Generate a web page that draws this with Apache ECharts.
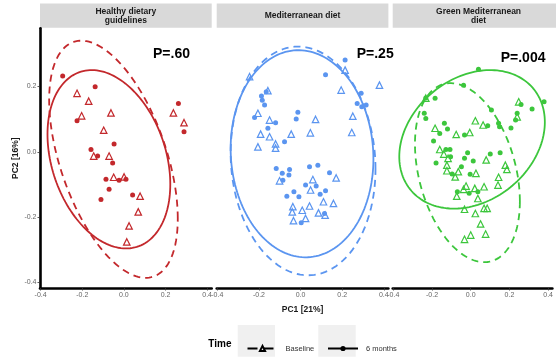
<!DOCTYPE html>
<html>
<head>
<meta charset="utf-8">
<script src="https://cdn.jsdelivr.net/npm/echarts@6.0.0/dist/echarts.min.js"></script>
<style>
  html, body { margin: 0; padding: 0; background: #fff; }
  #chart { width: 556px; height: 358px; }
</style>
</head>
<body>
<div id="chart"></div>
<script>
const panelTitles = ['Healthy dietary\nguidelines', 'Mediterranean diet', 'Green Mediterranean\ndiet'];
const panelColors = ['#c3282c', '#5b95f0', '#3cc63c'];
const pLabels = ['P=.60', 'P=.25', 'P=.004'];
const xTicks = [-0.4, -0.2, 0, 0.2, 0.4];
const yTicks = [-0.4, -0.2, 0, 0.2];
const timeLevels = ['Baseline', '6 months'];

// points: [PC1, PC2]
const hdgBaseline = [[-0.225,0.179],[-0.169,0.155],[-0.203,0.110],[-0.062,0.119],[-0.097,0.066],[0.238,0.119],[0.289,0.089],[-0.145,-0.013],[-0.071,-0.013],[-0.049,-0.078],[0.001,-0.077],[0.078,-0.136],[0.069,-0.184],[0.025,-0.227],[0.014,-0.276]];
const hdgSixMonths = [[-0.294,0.232],[-0.138,0.199],[-0.225,0.095],[0.262,0.148],[0.289,0.061],[-0.047,0.024],[-0.158,0.007],[-0.126,-0.013],[-0.054,-0.034],[-0.086,-0.084],[-0.023,-0.087],[0.010,-0.084],[-0.071,-0.115],[-0.110,-0.146],[0.042,-0.132]];

const medBaseline = [[0.214,0.250],[0.379,0.204],[0.195,0.189],[-0.157,0.187],[-0.245,0.230],[-0.205,0.118],[-0.149,0.097],[0.072,0.099],[0.251,0.109],[-0.192,0.054],[-0.149,0.046],[-0.045,0.054],[0.047,0.058],[0.246,0.059],[-0.205,0.015],[-0.120,0.024],[-0.120,0.011],[-0.101,-0.089],[0.059,-0.085],[0.171,-0.080],[0.048,-0.117],[0.110,-0.153],[0.158,-0.158],[-0.037,-0.168],[-0.040,-0.184],[0.008,-0.179],[0.043,-0.166],[0.086,-0.187],[0.118,-0.194],[-0.034,-0.211],[0.024,-0.204]];
const medSixMonths = [[0.214,0.281],[0.120,0.236],[-0.165,0.184],[-0.188,0.171],[-0.184,0.158],[-0.173,0.143],[0.291,0.179],[0.272,0.148],[0.294,0.138],[0.315,0.143],[-0.013,0.121],[-0.021,0.100],[-0.221,0.105],[-0.120,0.089],[-0.157,0.072],[-0.077,0.031],[-0.117,-0.051],[-0.088,-0.066],[-0.053,-0.054],[-0.056,-0.071],[-0.085,-0.087],[0.043,-0.046],[0.083,-0.041],[0.139,-0.064],[0.024,-0.102],[0.075,-0.105],[0.120,-0.119],[0.094,-0.130],[-0.066,-0.136],[-0.032,-0.122],[-0.008,-0.138],[0.115,-0.189],[0.003,-0.217]];

const gmedBaseline = [[-0.232,0.164],[0.248,0.153],[0.240,0.107],[0.024,0.095],[0.064,0.082],[-0.184,0.072],[-0.075,0.053],[-0.005,0.059],[-0.160,0.007],[-0.139,-0.007],[-0.117,-0.020],[0.080,-0.025],[-0.123,-0.041],[-0.123,-0.058],[-0.064,-0.061],[-0.080,-0.077],[0.027,-0.066],[0.179,-0.041],[0.187,-0.054],[0.144,-0.078],[0.141,-0.102],[-0.024,-0.105],[-0.037,-0.115],[0.021,-0.112],[0.069,-0.107],[-0.072,-0.136],[0.037,-0.143],[-0.032,-0.176],[0.069,-0.173],[0.085,-0.173],[0.024,-0.189],[0.051,-0.221],[0.000,-0.255],[-0.032,-0.268],[0.077,-0.252]];
const gmedSixMonths = [[0.040,0.253],[-0.037,0.204],[-0.232,0.165],[-0.184,0.164],[-0.240,0.118],[-0.232,0.102],[0.107,0.128],[0.260,0.145],[0.317,0.131],[0.240,0.118],[0.232,0.097],[0.208,0.073],[0.144,0.087],[0.149,0.077],[0.088,0.080],[-0.136,0.087],[-0.120,0.070],[-0.160,0.056],[-0.032,0.051],[-0.192,0.033],[-0.128,0.007],[-0.107,0.007],[-0.104,-0.015],[-0.179,-0.034],[-0.032,-0.020],[-0.016,-0.003],[0.013,-0.028],[0.101,-0.007],[0.152,-0.003],[-0.048,-0.046],[-0.096,-0.068],[-0.003,-0.069],[-0.069,-0.122],[-0.008,-0.127],[0.037,-0.122],[0.379,0.153]];

// normal data ellipses: [centre PC1, centre PC2, sd PC1, sd PC2, correlation]
const baselineEllipses = [[-0.050,-0.023,0.309,0.363,-0.50],[0.012,-0.028,0.348,0.350,-0.07],[-0.017,-0.064,0.271,0.274,-0.32]];
const sixMonthEllipses = [[-0.072,-0.023,0.295,0.273,-0.28],[0.007,-0.006,0.343,0.317,-0.05],[0.007,0.038,0.376,0.212,0.25]];

const baselinePoints = [hdgBaseline, medBaseline, gmedBaseline];
const sixMonthPoints = [hdgSixMonths, medSixMonths, gmedSixMonths];

const FONT = 'Liberation Sans, Arial, sans-serif';
const panelLeft = [40, 216.7, 392.7];
const panelWidth = 171.7;
const panelTop = 28.3;
const panelHeight = 259.7;
const pPos = [[153, 54], [356.7, 54], [500.7, 58.5]];

function ellipseRenderer(color, dashed) {
  return function (params, api) {
    const cx = api.value(0), cy = api.value(1), sx = api.value(2), sy = api.value(3), r = api.value(4);
    const k = Math.sqrt(1 - r * r);
    const pts = [];
    for (let i = 0; i <= 160; i++) {
      const t = i / 160 * Math.PI * 2;
      pts.push(api.coord([cx + sx * Math.cos(t), cy + sy * (r * Math.cos(t) + k * Math.sin(t))]));
    }
    return {
      type: 'polyline',
      shape: { points: pts },
      style: { stroke: color, fill: null, lineWidth: 1.8, lineDash: dashed ? [7, 5] : null }
    };
  };
}

const grids = [], xAxes = [], yAxes = [], series = [], graphics = [];

panelTitles.forEach((title, i) => {
  const col = panelColors[i];
  grids.push({ left: panelLeft[i], width: panelWidth, top: panelTop, height: panelHeight });
  xAxes.push({
    gridIndex: i, type: 'value', min: -0.403, max: 0.422,
    axisLine: { onZero: false, lineStyle: { color: '#000', width: 2.6 } },
    axisTick: { customValues: xTicks, length: 2.5, lineStyle: { color: '#333', width: 0.8 } },
    axisLabel: { customValues: xTicks, formatter: v => v.toFixed(1), fontSize: 7, color: '#666', fontFamily: FONT, margin: 3.5 },
    splitLine: { show: false },
    name: i === 1 ? 'PC1 [21%]' : '', nameLocation: 'middle', nameGap: 17,
    nameTextStyle: { fontSize: 8.5, fontWeight: 'bold', color: '#1a1a1a', fontFamily: FONT }
  });
  yAxes.push({
    gridIndex: i, type: 'value', min: -0.417, max: 0.378, show: i === 0,
    axisLine: { onZero: false, lineStyle: { color: '#000', width: 2.6 } },
    axisTick: { customValues: yTicks, length: 2.5, lineStyle: { color: '#333', width: 0.8 } },
    axisLabel: { customValues: yTicks, formatter: v => v.toFixed(1), fontSize: 7, color: '#666', fontFamily: FONT, margin: 3.5 },
    splitLine: { show: false },
    name: i === 0 ? 'PC2 [16%]' : '', nameLocation: 'middle', nameGap: 19, nameRotate: 90,
    nameTextStyle: { fontSize: 8.5, fontWeight: 'bold', color: '#1a1a1a', fontFamily: FONT }
  });
  series.push({
    type: 'custom', xAxisIndex: i, yAxisIndex: i, silent: true, z: 2,
    renderItem: ellipseRenderer(col, true), data: [baselineEllipses[i]]
  });
  series.push({
    type: 'custom', xAxisIndex: i, yAxisIndex: i, silent: true, z: 2,
    renderItem: ellipseRenderer(col, false), data: [sixMonthEllipses[i]]
  });
  series.push({
    type: 'scatter', xAxisIndex: i, yAxisIndex: i, z: 3,
    data: baselinePoints[i], symbol: 'triangle', symbolSize: 6.5,
    itemStyle: { color: 'rgba(255,255,255,0)', borderColor: col, borderWidth: 1.2, opacity: 1 }
  });
  series.push({
    type: 'scatter', xAxisIndex: i, yAxisIndex: i, z: 3,
    data: sixMonthPoints[i], symbol: 'circle', symbolSize: 5,
    itemStyle: { color: col, opacity: 1 }
  });
  // facet strip
  graphics.push({
    type: 'rect', left: panelLeft[i], top: 3.5, z: 0,
    shape: { width: panelWidth, height: 24.3 }, style: { fill: '#d9d9d9' }
  });
  graphics.push({
    type: 'text', x: panelLeft[i] + panelWidth / 2, y: 16, z: 1,
    style: { text: title, fill: '#1a1a1a', font: 'bold 8.5px ' + FONT, align: 'center', verticalAlign: 'middle', lineHeight: 8.8 }
  });
  graphics.push({
    type: 'text', x: pPos[i][0], y: pPos[i][1], z: 5,
    style: { text: pLabels[i], fill: '#000', font: 'bold 14px ' + FONT, align: 'left', verticalAlign: 'middle' }
  });
});

// legend key series (no data, drawn only in the legend)
series.push({
  name: timeLevels[0], type: 'line', xAxisIndex: 0, yAxisIndex: 0, data: [],
  symbol: 'triangle', lineStyle: { color: '#000', width: 1.4, type: [10, 6] },
  itemStyle: { color: 'rgba(0,0,0,0)', borderColor: '#000', borderWidth: 0.9 }
});
series.push({
  name: timeLevels[1], type: 'line', xAxisIndex: 0, yAxisIndex: 0, data: [],
  symbol: 'circle', lineStyle: { color: '#000', width: 1.4 },
  itemStyle: { color: '#000' }
});

graphics.push({ type: 'rect', left: 237.7, top: 325, z: 0, shape: { width: 37.3, height: 31.7 }, style: { fill: '#f0f0f0' } });
graphics.push({ type: 'rect', left: 318.3, top: 325, z: 0, shape: { width: 37.4, height: 31.7 }, style: { fill: '#f0f0f0' } });
graphics.push({
  type: 'text', x: 208.3, y: 344.5, z: 1,
  style: { text: 'Time', fill: '#000', font: 'bold 10px ' + FONT, align: 'left', verticalAlign: 'middle' }
});

const legendBase = {
  orient: 'horizontal', itemWidth: 30, itemHeight: 6.5, top: 339.5,
  selectedMode: false,
  textStyle: { fontSize: 7.5, color: '#333', fontFamily: FONT, padding: [0, 0, 0, 3] }
};

const chart = echarts.init(document.getElementById('chart'), null, { renderer: 'canvas' });
chart.setOption({
  animation: false,
  backgroundColor: '#fff',
  grid: grids,
  xAxis: xAxes,
  yAxis: yAxes,
  legend: [
    Object.assign({}, legendBase, { left: 241.5, data: [timeLevels[0]] }),
    Object.assign({}, legendBase, { left: 322, data: [timeLevels[1]] })
  ],
  graphic: graphics,
  series: series
});
</script>
</body>
</html>
